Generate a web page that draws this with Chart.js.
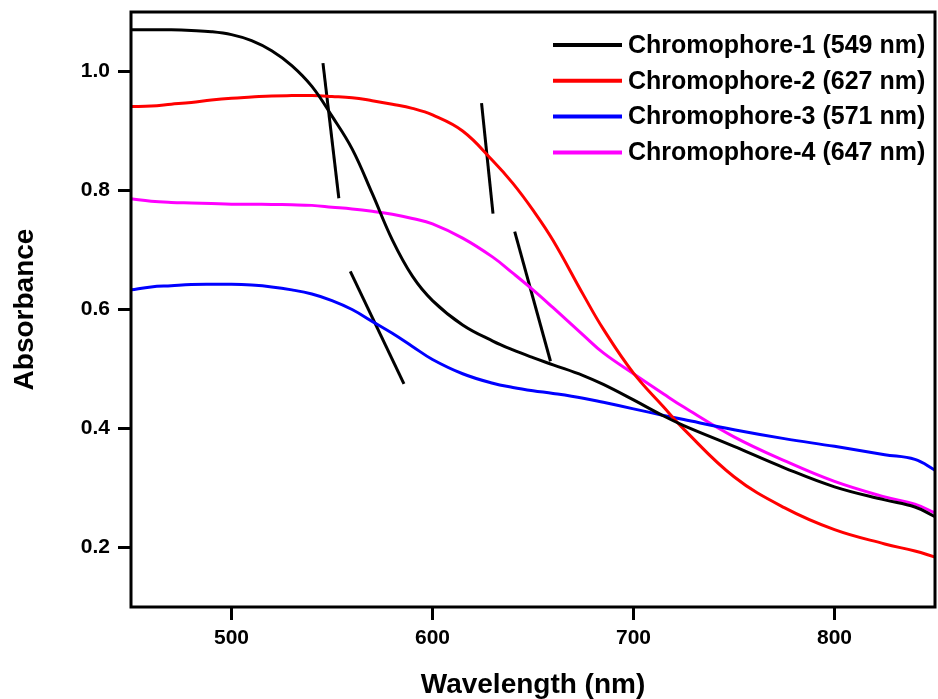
<!DOCTYPE html>
<html>
<head>
<meta charset="utf-8">
<script src="https://cdn.jsdelivr.net/npm/chart.js@4.4.1/dist/chart.umd.min.js"></script>
<style>
  body { margin: 0; background: #fff; }
</style>
</head>
<body>
<canvas id="chart" width="938" height="699"></canvas>
<script>
// wavelengths (nm) shared by all four spectra
const wavelengths = [450, 460, 470, 480, 490, 500, 510, 520, 530, 540, 550, 560, 570, 580, 590, 600,
    615, 630, 640, 650, 660, 675, 685, 700, 715, 725, 750, 775, 800, 825, 840, 850];

const chromophore1 = [1.070, 1.070, 1.070, 1.069, 1.067, 1.062, 1.052, 1.035, 1.010, 0.975, 0.925, 0.870, 0.795, 0.717, 0.656, 0.615,
    0.574, 0.547, 0.532, 0.519, 0.507, 0.489, 0.474, 0.448, 0.421, 0.405, 0.370, 0.334, 0.302, 0.280, 0.268, 0.252];
const chromophore2 = [0.941, 0.942, 0.945, 0.948, 0.952, 0.955, 0.957, 0.959, 0.9595, 0.9595, 0.958, 0.956, 0.951, 0.945, 0.938, 0.927,
    0.900, 0.850, 0.812, 0.767, 0.716, 0.625, 0.567, 0.493, 0.436, 0.399, 0.319, 0.267, 0.230, 0.206, 0.194, 0.184];
const chromophore3 = [0.633, 0.638, 0.640, 0.642, 0.6425, 0.6425, 0.641, 0.638, 0.633, 0.626, 0.615, 0.600, 0.580, 0.560, 0.538, 0.516,
    0.492, 0.476, 0.469, 0.4635, 0.459, 0.451, 0.444, 0.433, 0.422, 0.415, 0.398, 0.383, 0.370, 0.356, 0.348, 0.330];
const chromophore4 = [0.786, 0.782, 0.780, 0.779, 0.778, 0.777, 0.777, 0.7765, 0.776, 0.775, 0.772, 0.769, 0.765, 0.760, 0.753, 0.744,
    0.720, 0.688, 0.661, 0.633, 0.603, 0.557, 0.527, 0.492, 0.458, 0.436, 0.386, 0.346, 0.311, 0.285, 0.273, 0.258];

const seriesLabels = ['Chromophore-1 (549 nm)', 'Chromophore-2 (627 nm)', 'Chromophore-3 (571 nm)', 'Chromophore-4 (647 nm)'];
const seriesColors = ['#000000', '#ff0000', '#0000ff', '#ff00ff'];

// tangent marks drawn across the curves (pairs of [nm, absorbance])
const tangent1 = [[545.5, 1.014], [553.4, 0.787]];
const tangent2 = [[624.4, 0.947], [630.1, 0.761]];
const tangent3 = [[559.1, 0.664], [585.8, 0.475]];
const tangent4 = [[640.9, 0.731], [658.7, 0.513]];

const xTicks = [500, 600, 700, 800];
const yTicks = [0.2, 0.4, 0.6, 0.8, 1.0];

const FONT = "'Liberation Sans', Arial, sans-serif";

const curves = [chromophore1, chromophore2, chromophore3, chromophore4].map((values, i) => ({
    label: seriesLabels[i],
    data: wavelengths.map((x, j) => ({ x: x, y: values[j] })),
    borderColor: seriesColors[i],
    borderWidth: 3,
    pointRadius: 0,
    tension: 0.4,
    fill: false
}));

const tangents = [tangent1, tangent2, tangent3, tangent4].map(t => ({
    label: '',
    data: t.map(p => ({ x: p[0], y: p[1] })),
    borderColor: '#000000',
    borderWidth: 3,
    pointRadius: 0,
    tension: 0,
    fill: false
}));

// box around the plot area
const frame = {
    id: 'frame',
    afterDatasetsDraw(chart) {
        const a = chart.chartArea;
        const ctx = chart.ctx;
        ctx.save();
        ctx.strokeStyle = '#000';
        ctx.lineWidth = 3;
        ctx.strokeRect(a.left, a.top, a.right - a.left, a.bottom - a.top);
        ctx.restore();
    }
};

// legend in the top right corner, inside the frame
const insideLegend = {
    id: 'insideLegend',
    afterDraw(chart) {
        const ctx = chart.ctx;
        ctx.save();
        ctx.font = 'bold 25px ' + FONT;
        ctx.textBaseline = 'middle';
        ctx.fillStyle = '#000';
        seriesLabels.forEach((label, i) => {
            const y = 45 + i * 35.8;
            ctx.strokeStyle = seriesColors[i];
            ctx.lineWidth = 4;
            ctx.beginPath();
            ctx.moveTo(553, y);
            ctx.lineTo(622, y);
            ctx.stroke();
            ctx.fillText(label, 628, y + 1);
        });
        ctx.restore();
    }
};

new Chart(document.getElementById('chart'), {
    type: 'line',
    data: { datasets: curves.concat(tangents) },
    options: {
        responsive: false,
        animation: false,
        devicePixelRatio: 1,
        layout: { padding: { left: 0, right: 3, top: 12, bottom: 0 } },
        plugins: {
            legend: { display: false },
            tooltip: { enabled: false }
        },
        scales: {
            x: {
                type: 'linear',
                min: 450,
                max: 850,
                afterBuildTicks: s => { s.ticks = xTicks.map(v => ({ value: v })); },
                afterFit: s => { s.height = 92; s.paddingLeft = 0; s.paddingRight = 0; },
                border: { display: false },
                grid: { drawOnChartArea: false, tickLength: 13, tickWidth: 3, tickColor: '#000' },
                ticks: { color: '#000', padding: 6, font: { family: FONT, size: 21, weight: 'bold' } },
                title: {
                    display: true,
                    text: 'Wavelength (nm)',
                    color: '#000',
                    padding: { top: 0, bottom: 0 },
                    font: { family: FONT, size: 28, weight: 'bold', lineHeight: 1 }
                }
            },
            y: {
                min: 0.1,
                max: 1.1,
                afterBuildTicks: s => { s.ticks = yTicks.map(v => ({ value: v })); },
                afterFit: s => { s.width = 131; s.paddingTop = 0; s.paddingBottom = 0; },
                border: { display: false },
                grid: { drawOnChartArea: false, tickLength: 13, tickWidth: 3, tickColor: '#000' },
                ticks: {
                    color: '#000',
                    padding: 8,
                    font: { family: FONT, size: 21, weight: 'bold' },
                    callback: v => v.toFixed(1)
                },
                title: {
                    display: true,
                    text: 'Absorbance',
                    color: '#000',
                    padding: { top: 11, bottom: 0 },
                    font: { family: FONT, size: 28, weight: 'bold', lineHeight: 1 }
                }
            }
        }
    },
    plugins: [frame, insideLegend]
});
</script>
</body>
</html>
